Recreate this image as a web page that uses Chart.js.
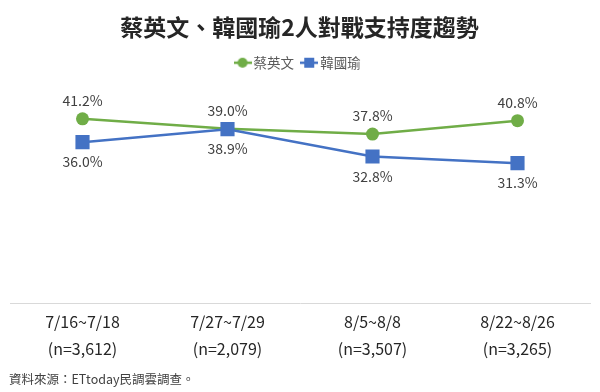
<!DOCTYPE html>
<html>
<head>
<meta charset="utf-8">
<script src="https://cdn.jsdelivr.net/npm/chart.js@4/dist/chart.umd.min.js"></script>
<style>
  html, body { margin: 0; padding: 0; background: #ffffff; }
  #wrap { width: 600px; height: 392px; position: relative; }
</style>
</head>
<body>
<div id="wrap"><canvas id="c"></canvas></div>
<script>
const titleText = '蔡英文、韓國瑜2人對戰支持度趨勢';
const sourceText = '資料來源：ETtoday民調雲調查。';
const periods = ['7/16~7/18', '7/27~7/29', '8/5~8/8', '8/22~8/26'];
const sampleSizes = ['(n=3,612)', '(n=2,079)', '(n=3,507)', '(n=3,265)'];
const seriesNames = ['蔡英文', '韓國瑜'];
const tsaiValues = [41.2, 39.0, 37.8, 40.8];
const hanValues = [36.0, 38.9, 32.8, 31.3];

const GREEN = '#70AD47';
const BLUE = '#4472C4';
const FONT = "'Noto Sans CJK TC', 'Noto Sans', sans-serif";

const categories = periods.map((p, i) => [p, sampleSizes[i]]);

function legendIcon(color, shape) {
  const cv = document.createElement('canvas');
  cv.width = 18; cv.height = 12;
  const ctx = cv.getContext('2d');
  ctx.strokeStyle = color; ctx.lineWidth = 2.5;
  ctx.beginPath(); ctx.moveTo(0, 6); ctx.lineTo(18, 6); ctx.stroke();
  ctx.fillStyle = color;
  if (shape === 'circle') {
    ctx.beginPath(); ctx.arc(9, 6, 5, 0, Math.PI * 2); ctx.fill();
  } else {
    ctx.fillRect(4, 1, 10, 10);
  }
  return cv;
}
const icons = [legendIcon(GREEN, 'circle'), legendIcon(BLUE, 'rect')];

const dataLabelPlugin = {
  id: 'dataLabels',
  afterDatasetsDraw(chart) {
    const ctx = chart.ctx;
    ctx.save();
    ctx.font = '14px ' + FONT;
    ctx.fillStyle = '#404040';
    ctx.textAlign = 'center';
    ctx.textBaseline = 'middle';
    chart.data.datasets.forEach((ds, di) => {
      const meta = chart.getDatasetMeta(di);
      meta.data.forEach((pt, i) => {
        const v = ds.data[i];
        const dy = di === 0 ? -18 : 20;
        ctx.fillText(v.toFixed(1) + '%', pt.x, pt.y + dy);
      });
    });
    ctx.restore();
  }
};

new Chart(document.getElementById('c'), {
  type: 'line',
  data: {
    labels: categories,
    datasets: [
      {
        label: seriesNames[0], data: tsaiValues, order: 1,
        borderColor: GREEN, backgroundColor: GREEN, borderWidth: 2.5,
        pointStyle: 'circle', pointRadius: 6.5, pointHoverRadius: 6.5,
        pointBackgroundColor: GREEN, pointBorderColor: GREEN, pointBorderWidth: 0,
        tension: 0
      },
      {
        label: seriesNames[1], data: hanValues, order: 0,
        borderColor: BLUE, backgroundColor: BLUE, borderWidth: 2.5,
        pointStyle: 'rect', pointRadius: 10, pointHoverRadius: 10,
        pointBackgroundColor: BLUE, pointBorderColor: BLUE, pointBorderWidth: 0,
        tension: 0
      }
    ]
  },
  options: {
    responsive: true,
    maintainAspectRatio: false,
    animation: false,
    events: [],
    layout: { padding: { left: 9, right: 10, top: 0, bottom: 2.5 } },
    plugins: {
      title: {
        display: true, text: titleText, color: '#262626',
        font: { family: FONT, size: 23, weight: 'bold' },
        padding: { top: 13, bottom: 4.4 }
      },
      subtitle: {
        display: true, text: sourceText, position: 'bottom', align: 'start',
        color: '#404040', font: { family: FONT, size: 12.5 },
        padding: { top: 3.5, bottom: 3 }
      },
      legend: {
        display: true, position: 'top',
        labels: {
          usePointStyle: true, pointStyleWidth: 8.5, boxHeight: 14,
          color: '#595959', font: { family: FONT, size: 13.5 }, padding: 11,
          generateLabels(chart) {
            const items = Chart.defaults.plugins.legend.labels.generateLabels(chart);
            items.sort((a, b) => a.datasetIndex - b.datasetIndex);
            items.forEach((it) => { it.pointStyle = icons[it.datasetIndex]; });
            return items;
          }
        }
      },
      tooltip: { enabled: false }
    },
    scales: {
      x: {
        offset: true,
        grid: { display: false, drawTicks: false },
        border: { display: true, color: '#D9D9D9', width: 1 },
        ticks: {
          color: '#262626', font: { family: FONT, size: 16, lineHeight: 1.65 },
          padding: 6, maxRotation: 0, autoSkip: false
        }
      },
      y: {
        display: false, min: 0, max: 50
      }
    }
  },
  plugins: [dataLabelPlugin]
});
</script>
</body>
</html>
